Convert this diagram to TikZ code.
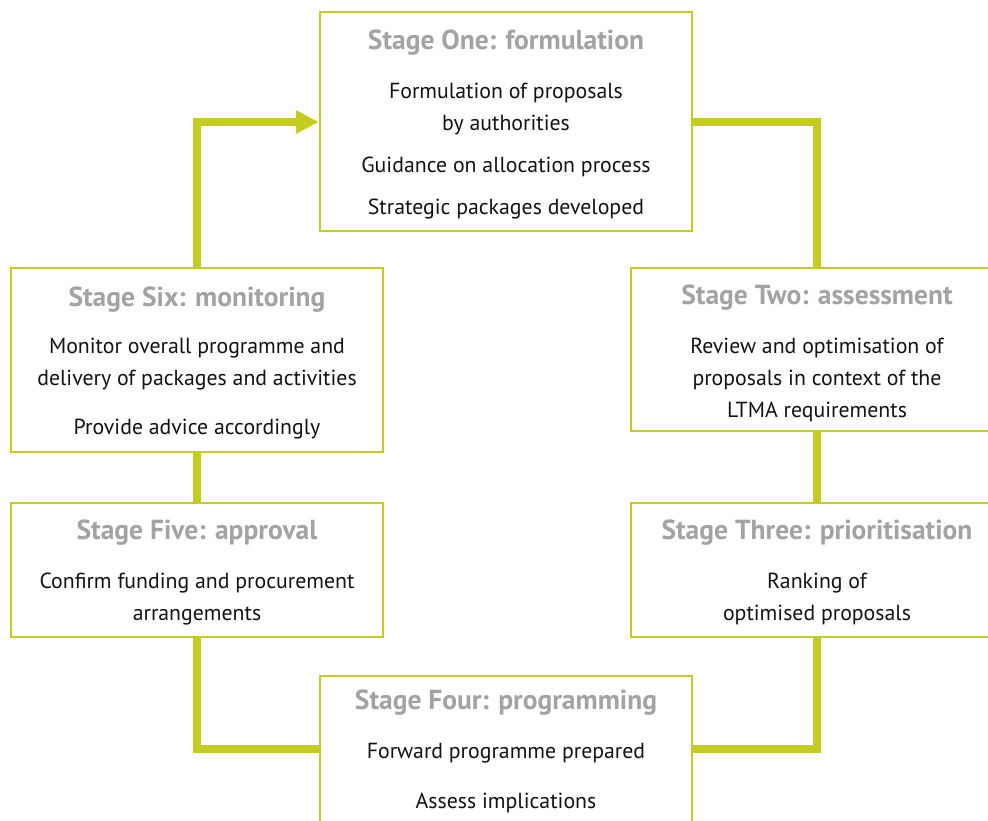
\documentclass[tikz,border=0pt]{standalone}
\usepackage{fontspec}
\setmainfont{PT Sans}
\usetikzlibrary{arrows.meta}
\definecolor{lime}{HTML}{C4CC22}
\definecolor{titlegrey}{HTML}{A3A3A5}
\definecolor{bodytext}{HTML}{141213}
\tikzset{
  stagebox/.style={draw=lime, line width=2.2pt, fill=white, minimum width=372pt,
    align=center, inner sep=0pt, text=bodytext,
    font=\fontsize{21.8}{32}\selectfont},
  link/.style={draw=lime, line width=8pt, line join=miter},
}
\newcommand{\stagetitle}[1]{{\fontsize{27.5}{28}\selectfont\bfseries\color{titlegrey}#1}}
\begin{document}
\begin{tikzpicture}[x=1pt,y=-1pt]
\useasboundingbox (0,0) rectangle (988,821);
\clip (0,0) rectangle (988,821);

\node[stagebox, minimum height=219pt] (one) at (506,121.5) {};
\node[align=center, inner sep=0pt, text=bodytext, font=\fontsize{21.8}{32}\selectfont] (onetext) at (506,124.5)
  {\stagetitle{Stage One: formulation}\\[17pt]
   Formulation of proposals\\ by authorities\\[10pt]
   Guidance on allocation process\\[10pt]
   Strategic packages developed};

\node[stagebox, minimum height=163pt] (two) at (817,349.5) {};
\node[align=center, inner sep=0pt, text=bodytext, font=\fontsize{21.8}{32}\selectfont] (twotext) at (817,353)
  {\stagetitle{Stage Two: assessment}\\[17pt]
   Review and optimisation of\\ proposals in context of the\\ LTMA requirements};

\node[stagebox, minimum height=134pt] (three) at (817,570) {};
\node[align=center, inner sep=0pt, text=bodytext, font=\fontsize{21.8}{32}\selectfont] (threetext) at (817,572)
  {\stagetitle{Stage Three: prioritisation}\\[17pt]
   Ranking of\\ optimised proposals};

\node[stagebox, minimum height=148pt] (four) at (506,750) {};
\node[align=center, inner sep=0pt, text=bodytext, font=\fontsize{21.8}{32}\selectfont] (fourtext) at (506,751)
  {\stagetitle{Stage Four: programming}\\[17pt]
   Forward programme prepared\\[18pt]
   Assess implications};

\node[stagebox, minimum height=134pt] (five) at (197,570) {};
\node[align=center, inner sep=0pt, text=bodytext, font=\fontsize{21.8}{32}\selectfont] (fivetext) at (197,572)
  {\stagetitle{Stage Five: approval}\\[17pt]
   Confirm funding and procurement\\ arrangements};

\node[stagebox, minimum height=184pt] (six) at (197,360) {};
\node[align=center, inner sep=0pt, text=bodytext, font=\fontsize{21.8}{32}\selectfont] (sixtext) at (197,362.5)
  {\stagetitle{Stage Six: monitoring}\\[15pt]
   Monitor overall programme and\\ delivery of packages and activities\\[17pt]
   Provide advice accordingly};

\coordinate (c1) at (817,122);
\coordinate (c3) at (817,749);
\coordinate (c4) at (197,749);
\coordinate (c6) at (197,122);

\draw[link] (one.east |- c1) -- (c1) -- (two.north);
\draw[link] (two.south) -- (three.north);
\draw[link] (three.south) -- (c3) -- (four.east |- c3);
\draw[link] (four.west |- c4) -- (c4) -- (five.south);
\draw[link] (five.north) -- (six.south);
\draw[link, -{Triangle[length=23pt,width=22pt]}] (six.north) -- (c6) -- (one.west |- c6);
\end{tikzpicture}
\end{document}
